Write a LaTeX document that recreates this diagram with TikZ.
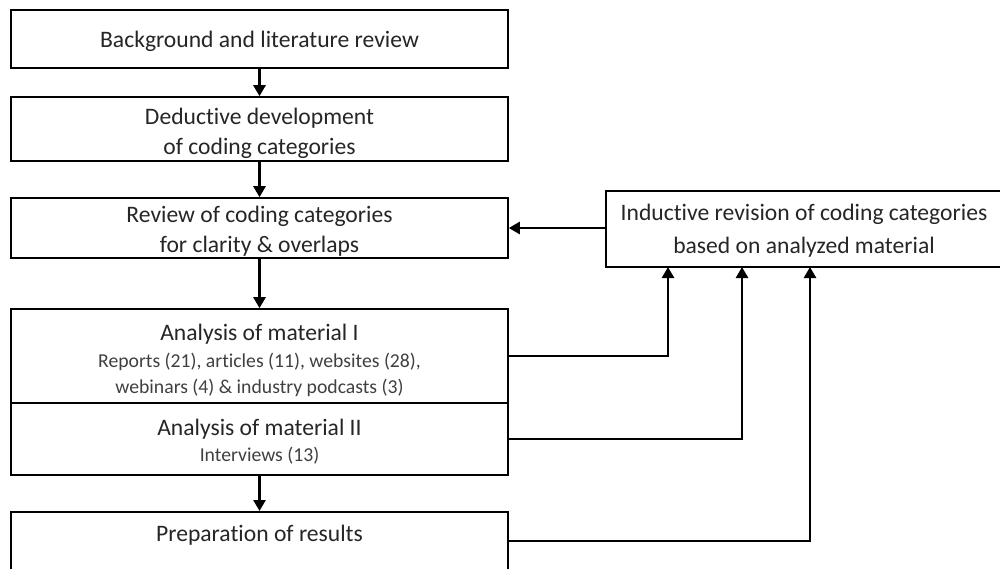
\documentclass[tikz,border=0pt]{standalone}
\usepackage{fontspec}
\setmainfont[Ligatures=NoCommon]{Carlito}
\usetikzlibrary{arrows.meta}
\definecolor{ink}{HTML}{262626}
\definecolor{subink}{HTML}{404040}
% smaller grey detail line inside a step box
\newcommand{\detailline}[1]{{\fontsize{19.7}{24}\selectfont\color{subink}#1}}
\begin{document}
\begin{tikzpicture}[x=1pt,y=-1pt,
  box/.style={draw=black,line width=1.6pt,minimum width=497pt,inner sep=0pt},
  sidebox/.style={draw=black,line width=1.6pt,minimum width=397pt,minimum height=76pt,
    inner sep=0pt},
  txt/.style={inner sep=0pt,align=center,text=ink,font=\fontsize{23.6}{30}\selectfont},
  flow/.style={line width=2.6pt,-{Triangle[width=12pt,length=11pt]}},
  feed/.style={line width=2.6pt,-{Triangle[width=12pt,length=11pt]}}]
\useasboundingbox (0,0) rectangle (1000,568);
\fill[white] (0,0) rectangle (1000,568);

% main column of steps
\node[box,minimum height=58pt] (bg) at (259.5,39) {};
\node[box,minimum height=64pt] (dd) at (259.5,129) {};
\node[box,minimum height=60pt] (rv) at (259.5,228) {};
\node[box,minimum height=94pt] (m1) at (259.5,356) {};
\node[box,minimum height=72pt] (m2) at (259.5,439) {};
\node[box,minimum height=64pt,anchor=north] (pr) at (259.5,511) {};

\node[txt] (bgt) at (259.5,41) {Background and literature review};
\node[txt] (ddt) at (259.5,133) {Deductive development\\of coding categories};
\node[txt] (rvt) at (259.5,231) {Review of coding categories\\for clarity \& overlaps};
\node[txt] (m1t) at (259.5,360) {Analysis of material I\\[-3pt]
  \detailline{Reports (21), articles (11), websites (28),}\\[-4pt]
  \detailline{webinars (4) \& industry podcasts (3)}};
\node[txt] (m2t) at (259.5,442) {Analysis of material II\\[-4pt]
  \detailline{Interviews (13)}};
\node[txt] (prt) at (259.5,535) {Preparation of results};

% inductive revision box on the right
\node[sidebox] (ir) at (804.5,229) {};
\node[txt,font=\fontsize{23.6}{33}\selectfont] (irt) at (804,231)
  {Inductive revision of coding categories\\based on analyzed material};

% downward flow
\draw[flow] (bg.south) -- (dd.north);
\draw[flow] (dd.south) -- (rv.north);
\draw[flow] (rv.south) -- (m1.north);
\draw[flow] (m2.south) -- (pr.north);

% feedback into the revision box
\coordinate (f1) at (668,267);
\coordinate (f2) at (742,267);
\coordinate (f3) at (810,267);
\draw[feed] (m1.east |- 0,356) -| (f1);
\draw[feed] (m2.east |- 0,439) -| (f2);
\draw[feed] (pr.east |- 0,541) -| (f3);
\draw[feed] (ir.west |- 0,228) -- (rv.east |- 0,228);
\end{tikzpicture}
\end{document}
